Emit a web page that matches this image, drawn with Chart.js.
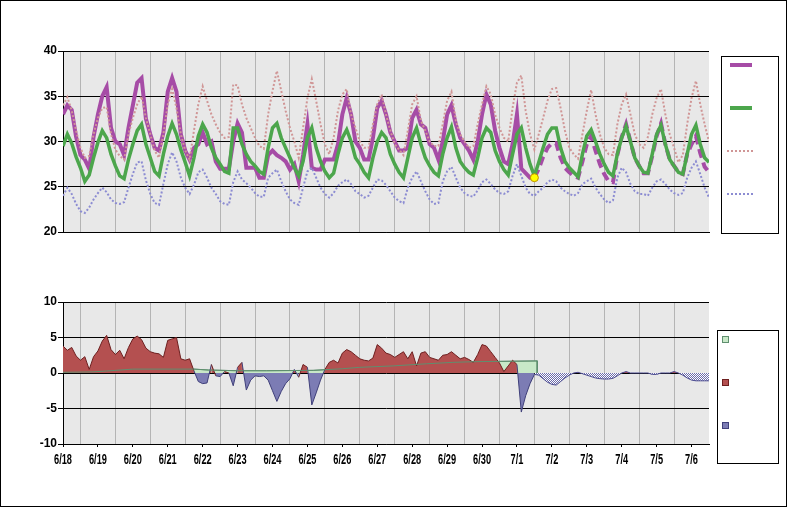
<!DOCTYPE html>
<html>
<head>
<meta charset="utf-8">
<script src="https://cdn.jsdelivr.net/npm/chart.js"></script>
<style>
body { margin: 0; background: #fff; }
#frame { position: relative; width: 787px; height: 507px; overflow: hidden; background: #fff; }
#frame canvas { position: absolute; left: 0; }
#edge { position: absolute; left: 0; top: 0; width: 787px; height: 507px; box-sizing: border-box; border: 1px solid #000; }
.legend { position: absolute; box-sizing: border-box; border: 1px solid #000; background: #fff; }
.sw { position: absolute; }
.sq { position: absolute; width: 5px; height: 5px; border: 1px solid; }
</style>
</head>
<body>
<div id="frame">
  <canvas id="topChart" width="787" height="245" style="top:0px"></canvas>
  <canvas id="bottomChart" width="787" height="262" style="top:245px"></canvas>

  <div class="legend" style="left:721px; top:56px; width:58px; height:178px"></div>
  <div class="sw" style="left:730px; top:63px; width:22px; height:4px; background:#a64ca6"></div>
  <div class="sw" style="left:730px; top:106px; width:22px; height:4px; background:#4ca64c"></div>
  <div class="sw" style="left:727px; top:150px; width:28px; height:2px; background:repeating-linear-gradient(to right,#d09696 0 2px,transparent 2px 4px)"></div>
  <div class="sw" style="left:727px; top:193px; width:28px; height:2px; background:repeating-linear-gradient(to right,#8c8cd2 0 2px,transparent 2px 4px)"></div>

  <div class="legend" style="left:717px; top:330px; width:62px; height:134px"></div>
  <div class="sq" style="left:722px; top:336px; background:#c8e8c8; border-color:#5f8f6f"></div>
  <div class="sq" style="left:722px; top:379px; background:#b45050; border-color:#6e2020"></div>
  <div class="sq" style="left:722px; top:422px; background:#7c7cb4; border-color:#40407a"></div>

  <div id="edge"></div>
</div>
<script>
// x axis is hours after 6/18 00:00, samples every 3 hours
var dayLabels = ['6/18','6/19','6/20','6/21','6/22','6/23','6/24','6/25','6/26','6/27',
                 '6/28','6/29','6/30','7/1','7/2','7/3','7/4','7/5','7/6'];
var stepHours = 3;
var endHour = 444;
var forecastStart = 324;

// observed temperature, 6/18 00:00 .. 7/1 12:00
var observed = [
  33, 34, 33.5, 30.5, 28.5, 28, 27, 30.5,
  33, 35, 36, 31.5, 30, 29.7, 28.5, 31.5,
  34, 36.5, 37, 32.5, 30.8, 29.3, 29, 31,
  35.5, 37, 35.5, 30.8, 29, 28, 29.3, 29.7,
  31, 29.7, 30, 27.8, 27, 27, 27, 30,
  32, 31, 27.1, 27.1, 27.1, 26, 26, 28.5,
  29, 28.5, 28.2, 27.8, 26.9, 27.5, 25.6, 28.5,
  31.9, 27.1, 26.9, 26.9, 28, 28, 28, 29.7,
  33, 34.8, 33, 30, 29.3, 28, 28, 30.4,
  33.7, 34.5, 33, 31, 30, 29, 29, 29.3,
  32.6, 33.5, 31.9, 31.5, 29.7, 29.3, 28, 30,
  33, 34, 31.9, 30.4, 29.7, 29, 28, 30,
  33, 35.2, 34.1, 31.2, 29.3, 27.8, 27.5, 29.7,
  33, 27, 26.5, 26, 26
];
// forecast, 7/1 12:00 .. 7/6 12:00
var forecast = [
  26, 27, 28.3, 29.3,
  29.8, 29.8, 28.2, 27.1, 26.6, 26.2, 26, 27.8,
  29.7, 30.6, 29, 27.5, 26.4, 25.6, 25.5, 28.5,
  30.5, 31.9, 30, 28.2, 27.3, 26.5, 26.5, 28.4,
  30.6, 32, 29.7, 28, 27.3, 26.6, 26.4, 28.6,
  29.7, 30.6, 28.7, 27.2, 26.6
];
var normal = [
  29.5, 30.8, 29.8, 28.3, 27.1, 25.6, 26.3, 28.2,
  29.9, 31.2, 30.4, 28.6, 27.3, 26.2, 25.9, 28.0,
  29.7, 31.2, 31.9, 29.7, 28.2, 26.7, 26.2, 28.6,
  30.6, 32.0, 30.8, 29.1, 27.7, 26.2, 28.2, 30.6,
  31.9, 31.0, 29.3, 28.2, 27.5, 26.7, 26.5, 31.5,
  31.5, 29.7, 28.6, 27.8, 27.3, 26.7, 26.4, 29.3,
  31.5, 32.0, 30.4, 29.3, 28.2, 27.1, 26.2, 27.8,
  30.4, 31.5, 29.3, 27.8, 26.7, 26.0, 26.5, 28.6,
  30.4, 31.3, 30.0, 28.2, 27.5, 26.6, 26.0, 28.2,
  30.0, 31.0, 30.4, 28.6, 27.5, 26.6, 26.0, 28.2,
  30.4, 31.5, 29.7, 28.2, 27.3, 26.6, 26.2, 28.6,
  30.4, 31.6, 29.3, 27.8, 27.1, 26.6, 26.3, 28.2,
  30.4, 31.5, 31.0, 29.0, 27.8, 26.9, 26.3, 28.6,
  30.8, 31.5, 29.3, 27.5, 26.2, 27.7, 29.3, 30.8,
  31.5, 31.5, 29.3, 27.8, 27.1, 26.6, 26.1, 28.6,
  30.6, 31.3, 30.0, 28.6, 27.5, 26.6, 26.2, 28.6,
  30.4, 31.7, 30.0, 28.2, 27.3, 26.6, 26.5, 28.6,
  30.8, 31.8, 29.7, 28.0, 27.3, 26.6, 26.4, 28.6,
  30.8, 31.8, 29.7, 28.2, 27.7
];
var recordHigh = [
  34, 34.9, 33.4, 31.2, 29.3, 28.2, 28.4, 30.8,
  32.6, 33.7, 33.8, 30.8, 29.1, 28.4, 28, 30.8,
  32.6, 34.1, 35, 32.6, 30.8, 29, 28.2, 30.8,
  34.1, 35.8, 33.7, 30.8, 29, 28, 31.2, 34.1,
  36.1, 34.5, 33, 31.9, 31, 30.4, 30.5, 36.3,
  36.2, 34.1, 32.6, 31.5, 30.4, 29.5, 29.2, 33,
  35.6, 37.8, 35.6, 33.4, 31.5, 30, 28.2, 31.5,
  34.8, 36.9, 34.5, 31.9, 29.7, 28.6, 30.4, 33.4,
  35.2, 35.8, 33, 31.5, 30, 29.3, 29.3, 31.9,
  34.1, 35.2, 33, 31.2, 29.7, 29.1, 28.5, 31.2,
  34.1, 35, 32.3, 31.2, 30, 29.5, 29.5, 31.9,
  34.5, 35.5, 32.3, 30.8, 30, 29.3, 29.5, 31.9,
  34.1, 36.1, 35.2, 33, 31.5, 30.4, 30, 33.7,
  36.5, 37.3, 33.4, 30.8, 29.1, 30.8, 32.6, 34.5,
  35.8, 35.9, 33.7, 31.2, 29.3, 28.6, 28.1, 30.8,
  33.4, 35.7, 33, 30.8, 29.3, 28.6, 28.5, 31.9,
  34.1, 35.2, 33, 30.8, 29.7, 29.3, 30.5, 33,
  34.8, 35.8, 33, 30.8, 29.3, 27.7, 28.5, 31.9,
  34.8, 36.7, 34.1, 31.9, 30
];
var recordLow = [
  24, 24.9, 24.2, 23.1, 22.3, 22.1, 22.7, 23.6,
  24.3, 24.9, 24.4, 23.6, 23.2, 23.1, 23.3, 24.9,
  26.4, 27.7, 27.8, 25.7, 24.2, 23.2, 23, 25.3,
  27.5, 28.8, 27.8, 26, 24.9, 24.2, 25.2, 26.6,
  26.9, 26, 24.9, 24.2, 23.4, 23.1, 23, 25.5,
  26.7, 25.8, 25.4, 24.9, 24.3, 23.9, 23.9, 26,
  26.5, 26.9, 25.6, 24.5, 23.6, 23.2, 23, 24.9,
  26.7, 27.1, 26, 24.9, 24.2, 23.8, 24.3, 25.1,
  25.5, 25.8, 25.3, 24.5, 24.2, 23.8, 24, 24.9,
  25.8, 25.7, 25.2, 24.5, 23.8, 23.4, 23.2, 24.9,
  26, 26.7, 25.6, 24.5, 23.6, 23.1, 23.2, 25.6,
  26.7, 27.2, 26, 24.9, 24.3, 24, 23.9, 24.6,
  25.5, 25.8, 25.3, 24.7, 24.3, 24.2, 24.5, 26.2,
  27.5, 26.2, 24.9, 24.2, 24, 24.5, 24.9, 25.5,
  25.8, 25.6, 24.9, 24.5, 24.2, 24, 24.3, 25.3,
  25.6, 25.9, 24.9, 24.2, 23.6, 23.2, 23.5, 26,
  27.1, 26.6, 25.3, 24.5, 24.2, 24.2, 24, 24.9,
  25.6, 25.8, 25.3, 24.7, 24.3, 24.1, 24.3, 26,
  27.1, 27.8, 26.4, 24.9, 23.8
];
// departure from normal (lower panel)
var anomalyObs = [
  3.8, 3.2, 3.6, 2.4, 1.8, 2.3, 0.5, 2.3,
  3.1, 4.5, 5.3, 3.3, 2.6, 3.2, 2.0, 3.6,
  4.8, 5.2, 4.7, 3.5, 3.0, 2.8, 2.7, 2.2,
  4.6, 4.8, 5.0, 2.0, 1.8, 2.0, 0.3, -1.2,
  -1.5, -1.4, 1.2, -0.4, -0.5, 0.2, 0, -1.8,
  0.8, 1.5, -2.4, -1.0, -0.4, -0.5, -0.4, -1.0,
  -2.5, -4.0, -2.6, -1.5, -0.8, 0.5, -0.6, 1.2,
  0.8, -4.5, -2.8, -1.0, 0.5, 1.5, 1.8, 1.4,
  2.8, 3.3, 3.0, 2.5, 2.0, 1.8, 1.7, 2.1,
  4.0, 3.5, 2.8, 2.6, 2.2, 2.6, 3.0, 2.0,
  3.0, 1.0, 2.8, 3.0, 2.2, 2.0, 1.8, 2.5,
  2.6, 3.0, 2.5, 2.0, 2.2, 1.9, 1.5, 2.6,
  4.0, 3.8, 3.0, 2.2, 1.4, 0.2, 1.0, 1.8,
  1.2, -5.5, -3.2, -1.5, -0.2
];
var anomalyFc = [
  -0.2, -0.3, -0.8, -1.3,
  -1.6, -1.7, -1.2, -0.7, -0.3, 0, 0.1, -0.1,
  -0.3, -0.5, -0.7, -0.8, -0.85, -0.85, -0.75, -0.4,
  0, 0.2, 0, 0, 0, 0, 0, -0.2,
  -0.2, 0, 0, 0, 0.2, 0, -0.3, -0.7,
  -1.0, -1.1, -1.1, -1.1, -1.1
];
// running mean of the departure
var meanHours  = [0, 20, 30, 48, 90, 100, 120, 140, 172, 192, 204, 227, 250, 268, 284, 326, 326];
var meanValues = [0.1, 0.15, 0.28, 0.55, 0.55, 0.42, 0.32, 0.32, 0.37, 0.6, 0.8, 1.0, 1.3, 1.5, 1.6, 1.7, 0];

function pts(values, start) {
    return values.map(function (v, i) { return { x: start + i * stepHours, y: v }; });
}
var meanPts = meanHours.map(function (h, i) { return { x: h, y: meanValues[i] }; });

var tickHours = [];
for (var h = 0; h <= endHour; h += 12) tickHours.push(h);

var FONT = 'Liberation Sans, Arial, sans-serif';

function xScale(showTicks) {
    return {
        type: 'linear', min: 0, max: endHour,
        afterBuildTicks: function (s) { s.ticks = tickHours.map(function (v) { return { value: v }; }); },
        ticks: { display: false },
        grid: {
            color: function (c) { return (c.tick && c.tick.value % 24 === 12 && c.tick.value < endHour) ? '#b4b4b4' : 'rgba(0,0,0,0)'; },
            tickColor: function (c) { return (c.tick && c.tick.value % 24 === 0) ? '#000' : 'rgba(0,0,0,0)'; },
            drawTicks: showTicks, tickLength: 3, lineWidth: 1
        },
        border: { color: '#000', width: 1 },
        afterFit: function (s) { s.height = showTicks ? 30 : 0; }
    };
}
function yScale(min, max) {
    return {
        min: min, max: max,
        ticks: { stepSize: 5, color: '#000', padding: 1, font: { family: FONT, size: 12, weight: 'bold' } },
        grid: { color: '#000', lineWidth: 1, tickLength: 5 },
        border: { color: '#000', width: 1 },
        afterFit: function (s) { s.width = 63; }
    };
}

var plotBg = {
    id: 'plotBg',
    beforeDraw: function (chart) {
        var a = chart.chartArea, ctx = chart.ctx;
        ctx.save();
        ctx.fillStyle = '#e8e8e8';
        ctx.fillRect(a.left, a.top, a.right - a.left, a.bottom - a.top);
        ctx.restore();
    }
};

// narrow bold date labels under the lower panel
var dayLabelPlugin = {
    id: 'dayLabelPlugin',
    afterDraw: function (chart) {
        var sc = chart.scales.x, ctx = chart.ctx;
        ctx.save();
        ctx.fillStyle = '#000';
        ctx.font = 'bold 14px ' + FONT;
        ctx.textAlign = 'center';
        ctx.textBaseline = 'alphabetic';
        dayLabels.forEach(function (lab, d) {
            var x = sc.getPixelForValue(d * 24);
            ctx.save();
            ctx.translate(x, chart.chartArea.bottom + 20);
            ctx.scale(0.66, 1);
            ctx.fillText(lab, 0, 0);
            ctx.restore();
        });
        ctx.restore();
    }
};

var common = {
    animation: false,
    responsive: false,
    devicePixelRatio: 1,
    elements: { point: { radius: 0 }, line: { tension: 0 } },
    plugins: { legend: { display: false }, tooltip: { enabled: false } }
};

new Chart(document.getElementById('topChart').getContext('2d'), {
    type: 'line',
    data: {
        datasets: [
            { data: [{ x: forecastStart, y: observed[observed.length - 1] }], showLine: false,
              pointRadius: 4, pointBackgroundColor: '#ffff00', pointBorderColor: '#c09000', pointBorderWidth: 1 },
            { data: pts(normal, 0), borderColor: '#4ca64c', borderWidth: 3.5, fill: false },
            { data: pts(recordHigh, 0), borderColor: '#d09696', borderWidth: 2, borderDash: [2, 2], fill: false },
            { data: pts(recordLow, 0), borderColor: '#8c8cd2', borderWidth: 2, borderDash: [2, 2], fill: false },
            { data: pts(observed, 0), borderColor: '#a64ca6', borderWidth: 4, fill: false },
            { data: pts(forecast, forecastStart), borderColor: '#a64ca6', borderWidth: 4, borderDash: [9, 5], fill: false }
        ]
    },
    options: Object.assign({}, common, {
        layout: { padding: { top: 51, right: 78, bottom: 13, left: 0 } },
        scales: { x: xScale(false), y: yScale(20, 40) }
    }),
    plugins: [plotBg]
});

// checkered fill for the forecast departure
var pc = document.createElement('canvas');
pc.width = 2; pc.height = 2;
var pctx = pc.getContext('2d');
pctx.fillStyle = '#ffffff'; pctx.fillRect(0, 0, 2, 2);
pctx.fillStyle = '#6a6aaa'; pctx.fillRect(0, 0, 1, 1); pctx.fillRect(1, 1, 1, 1);
var bctx = document.getElementById('bottomChart').getContext('2d');
var hatch = bctx.createPattern(pc, 'repeat');

new Chart(bctx, {
    type: 'line',
    data: {
        datasets: [
            { data: meanPts, borderColor: '#5f8f6f', borderWidth: 1, fill: false },
            { data: pts(anomalyObs, 0), borderWidth: 1,
              segment: { borderColor: function (c) { return (c.p0.parsed.y + c.p1.parsed.y) >= 0 ? '#6e2020' : '#40407a'; } },
              fill: { target: 'origin', above: '#b45050', below: '#7c7cb4' } },
            { data: pts(anomalyFc, forecastStart), borderWidth: 1, borderColor: '#4a4a90',
              fill: { target: 'origin', above: '#b45050', below: hatch } },
            { data: meanPts, borderColor: '#5f8f6f', borderWidth: 1, backgroundColor: '#c8e8c8', fill: 'origin' }
        ]
    },
    options: Object.assign({}, common, {
        layout: { padding: { top: 57, right: 78, bottom: 33, left: 0 } },
        scales: { x: xScale(true), y: yScale(-10, 10) }
    }),
    plugins: [plotBg, dayLabelPlugin]
});
</script>
</body>
</html>
